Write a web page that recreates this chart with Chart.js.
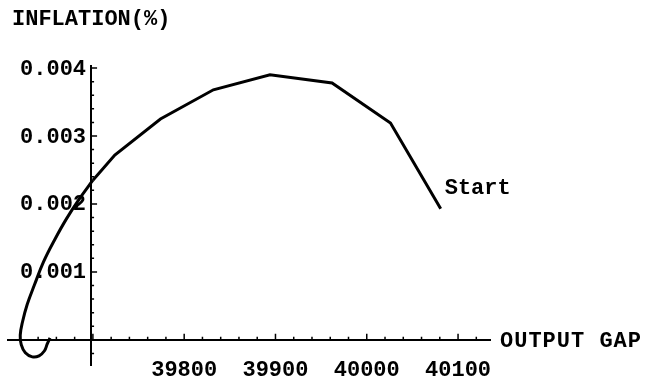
<!DOCTYPE html>
<html lang="en">
<head>
<meta charset="UTF-8">
<title>Inflation vs Output Gap</title>
<script src="https://cdn.jsdelivr.net/npm/chart.js"></script>
<style>
  html, body { margin: 0; padding: 0; background: #fff; }
  #wrap { width: 645px; height: 384px; }
</style>
</head>
<body>
<div id="wrap"><canvas id="phaseChart"></canvas></div>
<script>
// trajectory, from "Start" round to the crossing of the y axis
const pathOutput    = [40081, 40026, 39962, 39894, 39832, 39774, 39724, 39700];
const pathInflation = [0.00193, 0.00319, 0.00378, 0.00390, 0.00368, 0.00325, 0.00272, 0.00235];
// the smooth tail that loops near zero
const tailOutput    = [39700, 39685, 39671, 39658, 39646, 39636, 39628, 39623, 39620.4, 39621.5, 39626, 39633.6, 39641, 39647, 39650, 39653];
const tailInflation = [0.00235, 0.00207, 0.00178, 0.00147, 0.00115, 0.00081, 0.00052, 0.00027, 0.00007, -0.00007, -0.00019, -0.00025, -0.000235, -0.00016, -0.00006, 0.00003];

const xTickLabels = [39800, 39900, 40000, 40100];
const yTickLabels = [0.001, 0.002, 0.003, 0.004];

const FONT = { family: '"Liberation Mono", "DejaVu Sans Mono", monospace', size: 22, weight: 'bold' };
const ORIGIN_X = 39698;

function toPoints(xs, ys) {
    return xs.map((x, i) => ({ x: x, y: ys[i] }));
}

// minor ticks every 20 on x, every 0.0002 on y
function xTicks(axis) {
    const t = [];
    for (let v = 39620; v <= 40120; v += 20) t.push({ value: v });
    axis.ticks = t;
}
function yTicks(axis) {
    const t = [];
    for (let i = -1; i <= 20; i++) t.push({ value: Math.round(i * 2) / 10000 });
    axis.ticks = t;
}
const isXMajor = v => xTickLabels.includes(v) || v % 100 === 0;
const yLabelFor = v => yTickLabels.find(l => Math.abs(l - v) < 1e-9);

const decor = {
    id: 'decor',
    afterDraw(chart) {
        const ctx = chart.ctx;
        const xs = chart.scales.x, ys = chart.scales.y;
        const ax = xs.getPixelForValue(ORIGIN_X);
        const ay = ys.getPixelForValue(0);
        ctx.save();
        ctx.strokeStyle = '#000';
        ctx.lineWidth = 1.5;
        ctx.beginPath();
        xs.ticks.forEach(t => {
            const p = xs.getPixelForValue(t.value);
            const len = isXMajor(t.value) ? 6 : 3;
            ctx.moveTo(p, ay);
            ctx.lineTo(p, ay - len);
        });
        ys.ticks.forEach(t => {
            const p = ys.getPixelForValue(t.value);
            const len = yLabelFor(t.value) !== undefined ? 6 : 3;
            ctx.moveTo(ax, p);
            ctx.lineTo(ax + len, p);
        });
        ctx.stroke();

        ctx.fillStyle = '#000';
        ctx.font = 'bold ' + FONT.size + 'px ' + FONT.family;
        ctx.textBaseline = 'middle';
        // y tick labels sit left of the crossing axis
        ctx.textAlign = 'right';
        yTickLabels.forEach(v => {
            ctx.fillText(v.toFixed(3), ax - 5, ys.getPixelForValue(v) + 1);
        });
        ctx.textAlign = 'left';
        ctx.fillText('INFLATION(%)', 12, 19);
        ctx.letterSpacing = '1px';
        ctx.fillText('OUTPUT GAP', xs.right + 10, ay + 2);
        ctx.letterSpacing = '0px';
        const sx = xs.getPixelForValue(pathOutput[0]);
        const sy = ys.getPixelForValue(pathInflation[0]);
        ctx.fillText('Start', sx + 4, sy - 20);
        ctx.restore();
    }
};

const ctx = document.getElementById('phaseChart').getContext('2d');
const phaseChart = new Chart(ctx, {
    type: 'scatter',
    data: {
        datasets: [{
            data: toPoints(pathOutput, pathInflation),
            showLine: true,
            borderColor: '#000',
            borderWidth: 3,
            pointRadius: 0,
            tension: 0
        }, {
            data: toPoints(tailOutput, tailInflation),
            showLine: true,
            borderColor: '#000',
            borderWidth: 3,
            pointRadius: 0,
            tension: 0.4
        }]
    },
    options: {
        responsive: true,
        maintainAspectRatio: false,
        animation: false,
        layout: { padding: { left: 8, right: 155, top: 66, bottom: 19 } },
        plugins: { legend: { display: false }, tooltip: { enabled: false } },
        scales: {
            x: {
                type: 'linear',
                min: 39607,
                max: 40135,
                position: { y: 0 },
                afterBuildTicks: xTicks,
                grid: { display: true, drawOnChartArea: false, drawTicks: false },
                border: { color: '#000', width: 2 },
                ticks: {
                    autoSkip: false,
                    maxRotation: 0,
                    padding: 17,
                    color: '#000',
                    font: FONT,
                    callback: v => xTickLabels.includes(v) ? String(v) : ''
                }
            },
            y: {
                type: 'linear',
                min: -0.00037,
                max: 0.00403,
                position: { x: ORIGIN_X },
                afterBuildTicks: yTicks,
                grid: { display: true, drawOnChartArea: false, drawTicks: false },
                border: { color: '#000', width: 2 },
                ticks: { display: false }
            }
        }
    },
    plugins: [decor]
});
</script>
</body>
</html>
